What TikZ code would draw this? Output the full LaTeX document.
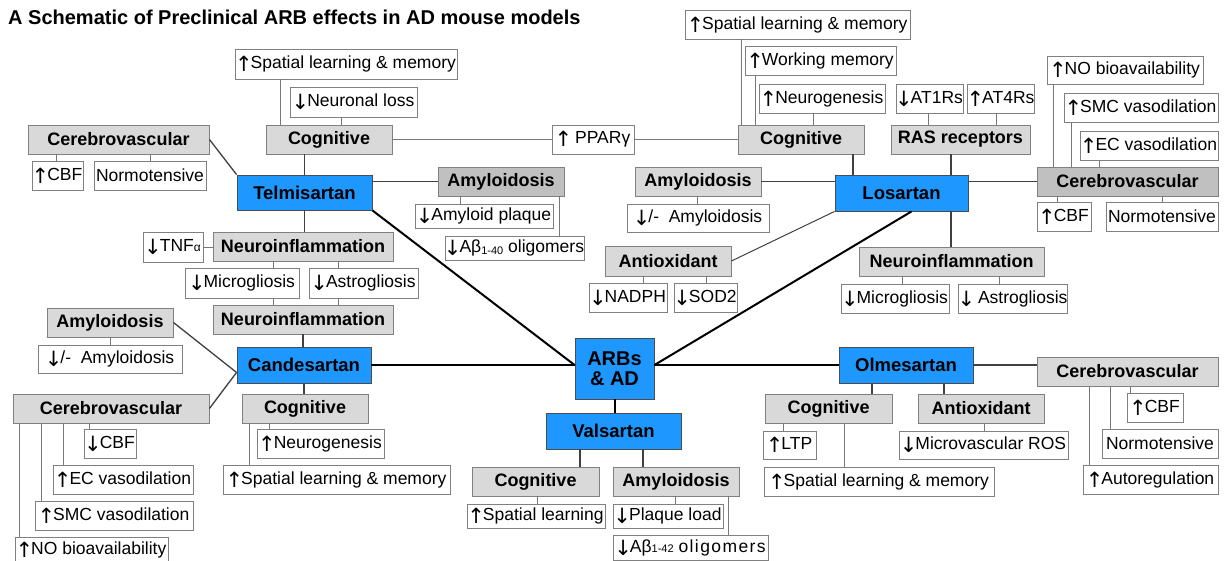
\documentclass[tikz,border=0pt]{standalone}
\usepackage{fontspec}
\setmainfont{Liberation Sans}
\newfontfamily\arrowfont{DejaVu Sans}
\usetikzlibrary{calc}
\definecolor{DrugBlue}{RGB}{30, 152, 255}
\definecolor{CatGray}{RGB}{217, 217, 217}
\definecolor{CatDark}{RGB}{192, 192, 192}
\definecolor{EdgeGray}{RGB}{128, 128, 128}
\definecolor{LinkGray}{RGB}{120, 120, 120}
\newcommand{\UpArr}{\kern-1pt\raisebox{-3pt}{\arrowfont\fontsize{21}{21}\selectfont ↑}\kern-2pt}
\newcommand{\DnArr}{\kern-1pt\raisebox{-3pt}{\arrowfont\fontsize{21}{21}\selectfont ↓}\kern-2pt}

\begin{document}
\begin{tikzpicture}[x=1pt, y=-1pt,
    leaf/.style={draw=EdgeGray, fill=white, line width=0.9pt, inner sep=0pt,
                 font=\fontsize{17.5}{18}\selectfont},
    cat/.style={draw=EdgeGray, fill=CatGray, line width=0.9pt, inner sep=0pt,
                font=\fontsize{18}{19}\selectfont\bfseries},
    catdark/.style={cat, fill=CatDark},
    drug/.style={draw=black!70, fill=DrugBlue, line width=0.9pt, inner sep=0pt,
                 font=\fontsize{18.5}{19}\selectfont\bfseries},
    trunk/.style={line width=2pt, black},
    branch/.style={line width=1.3pt, black!75},
    link/.style={line width=0.9pt, LinkGray}]
    \useasboundingbox (0,0) rectangle (1225,561);

    % Title
    \node[anchor=base west, inner sep=0pt, font=\fontsize{20}{22}\selectfont\bfseries]
        (title) at (8,25) {A Schematic of Preclinical ARB effects in AD mouse models};

    % Center node
    \node[drug, minimum width=79, minimum height=61, align=center,
          font=\fontsize{20}{20}\selectfont\bfseries] (arbs) at (614.5,368.5) {ARBs\\\& AD};

    % Telmisartan with its effects
    \node[drug, minimum width=135, minimum height=35] (telm) at (304.5,192.5) {Telmisartan};
    \node[cat, minimum width=126, minimum height=29] (tcog) at (329,139.5) {Cognitive};
    \node[leaf, minimum width=222, minimum height=30] (tspat) at (346,64) {\UpArr Spatial learning \& memory};
    \node[leaf, minimum width=127, minimum height=30] (tneur) at (353.5,102) {\DnArr Neuronal loss};
    \node[cat, minimum width=181, minimum height=29] (tcere) at (118.5,139.5) {Cerebrovascular};
    \node[leaf, minimum width=51, minimum height=29] (tcbf) at (57.5,175.5) {\UpArr CBF};
    \node[leaf, minimum width=112, minimum height=29] (tnorm) at (150,175.5) {Normotensive};
    \node[catdark, minimum width=126, minimum height=29] (tamy) at (501,181.5) {Amyloidosis};
    \node[leaf, minimum width=138, minimum height=24] (tplaq) at (484,216) {\DnArr Amyloid plaque};
    \node[leaf, minimum width=137, minimum height=24] (tolig) at (514.5,248)
        {\DnArr Aβ\raisebox{-2pt}{\fontsize{11}{11}\selectfont 1-40} oligomers};
    \node[cat, minimum width=180, minimum height=29] (tinfl) at (303,246.5) {Neuroinflammation};
    \node[leaf, minimum width=60, minimum height=30] (ttnf) at (173,247)
        {\DnArr TNF{\fontsize{12}{12}\selectfont α}};
    \node[leaf, minimum width=114, minimum height=30] (tmicro) at (242,283) {\DnArr Microgliosis};
    \node[leaf, minimum width=109, minimum height=30] (tastro) at (363.5,283) {\DnArr Astrogliosis};
    \node[leaf, minimum width=82, minimum height=29] (ppar) at (593,139.5) {\UpArr\ PPARγ};

    % Candesartan with its effects
    \node[drug, minimum width=134, minimum height=36] (cand) at (304,365) {Candesartan};
    \node[cat, minimum width=180, minimum height=29] (cinfl) at (303,319.5) {Neuroinflammation};
    \node[cat, minimum width=126, minimum height=29] (camy) at (110,322.5) {Amyloidosis};
    \node[leaf, minimum width=144, minimum height=28] (camyl) at (110,359) {\DnArr/-\ \ Amyloidosis};
    \node[cat, minimum width=196, minimum height=29] (ccere) at (111,408.5) {Cerebrovascular};
    \node[leaf, minimum width=52, minimum height=29] (ccbf) at (110,443.5) {\DnArr CBF};
    \node[leaf, minimum width=140, minimum height=29] (cec) at (123,479.5) {\UpArr EC vasodilation};
    \node[leaf, minimum width=158, minimum height=29] (csmc) at (114,515.5) {\UpArr SMC vasodilation};
    \node[leaf, minimum width=153, minimum height=25] (cno) at (91.5,549.5) {\UpArr NO bioavailability};
    \node[cat, minimum width=126, minimum height=29] (ccog) at (305,408.5) {Cognitive};
    \node[leaf, minimum width=127, minimum height=29] (cneuro) at (320.5,443.5) {\UpArr Neurogenesis};
    \node[leaf, minimum width=227, minimum height=29] (cspat) at (336.5,479.5) {\UpArr Spatial learning \& memory};

    % Valsartan with its effects
    \node[drug, minimum width=135, minimum height=36] (vals) at (613.5,431) {Valsartan};
    \node[cat, minimum width=127, minimum height=29] (vcog) at (535.5,481.5) {Cognitive};
    \node[cat, minimum width=126, minimum height=29] (vamy) at (676,481.5) {Amyloidosis};
    \node[leaf, minimum width=138, minimum height=24] (vspat) at (536,516) {\UpArr Spatial learning};
    \node[leaf, minimum width=110, minimum height=24] (vplaq) at (668,516) {\DnArr Plaque load};
    \node[leaf, minimum width=155, minimum height=25] (volig) at (690.5,547.5)
        {\DnArr Aβ{\fontsize{11}{11}\selectfont 1-42} {\addfontfeature{LetterSpace=8}oligomers}};

    % Losartan with its effects
    \node[drug, minimum width=133, minimum height=36] (losa) at (901.5,193) {Losartan};
    \node[cat, minimum width=126, minimum height=29] (lcog) at (801,139.5) {Cognitive};
    \node[leaf, minimum width=225, minimum height=29] (lspat) at (797.5,24.5) {\UpArr Spatial learning \& memory};
    \node[leaf, minimum width=151, minimum height=29] (lwork) at (820.5,60.5) {\UpArr Working memory};
    \node[leaf, minimum width=126, minimum height=29] (lneuro) at (822,98.5) {\UpArr Neurogenesis};
    \node[cat, minimum width=139, minimum height=29] (lras) at (960.5,139.5) {RAS receptors};
    \node[leaf, minimum width=67, minimum height=29] (lat1) at (929.5,98.5) {\DnArr AT1Rs};
    \node[leaf, minimum width=66, minimum height=29] (lat4) at (1001,98.5) {\UpArr AT4Rs};
    \node[catdark, minimum width=181, minimum height=29] (lcere) at (1127.5,181.5) {Cerebrovascular};
    \node[leaf, minimum width=156, minimum height=28] (lno) at (1125,70) {\UpArr NO bioavailability};
    \node[leaf, minimum width=154, minimum height=29] (lsmc) at (1141,107.5) {\UpArr SMC vasodilation};
    \node[leaf, minimum width=138, minimum height=29] (lec) at (1149,145.5) {\UpArr EC vasodilation};
    \node[leaf, minimum width=54, minimum height=29] (lcbf) at (1064,216.5) {\UpArr CBF};
    \node[leaf, minimum width=112, minimum height=29] (lnorm) at (1162,216.5) {Normotensive};
    \node[cat, minimum width=126, minimum height=29] (lamy) at (698,181.5) {Amyloidosis};
    \node[leaf, minimum width=142, minimum height=28] (lamyl) at (698,218) {\DnArr/-\ \ Amyloidosis};
    \node[cat, minimum width=126, minimum height=30] (lanti) at (668,261) {Antioxidant};
    \node[leaf, minimum width=78, minimum height=29] (lnadph) at (628,297.5) {\DnArr NADPH};
    \node[leaf, minimum width=63, minimum height=29] (lsod) at (705.5,297.5) {\DnArr SOD2};
    \node[cat, minimum width=185, minimum height=29] (linfl) at (951.5,261.5) {Neuroinflammation};
    \node[leaf, minimum width=108, minimum height=29] (lmicro) at (895,298.5) {\DnArr Microgliosis};
    \node[leaf, minimum width=108, minimum height=29] (lastro) at (1013,298.5) {\DnArr\ Astrogliosis};

    % Olmesartan with its effects
    \node[drug, minimum width=134, minimum height=36] (olme) at (906,365) {Olmesartan};
    \node[cat, minimum width=181, minimum height=29] (ocere) at (1127.5,371.5) {Cerebrovascular};
    \node[leaf, minimum width=56, minimum height=29] (ocbf) at (1155,407.5) {\UpArr CBF};
    \node[leaf, minimum width=116, minimum height=29] (onorm) at (1160,443.5) {Normotensive};
    \node[leaf, minimum width=135, minimum height=29] (oauto) at (1150.5,479.5) {\UpArr Autoregulation};
    \node[cat, minimum width=127, minimum height=29] (ocog) at (828.5,408.5) {Cognitive};
    \node[leaf, minimum width=53, minimum height=28] (oltp) at (789.5,445) {\UpArr LTP};
    \node[leaf, minimum width=230, minimum height=29] (ospat) at (879,481.5) {\UpArr Spatial learning \& memory};
    \node[cat, minimum width=126, minimum height=29] (oanti) at (981,408.5) {Antioxidant};
    \node[leaf, minimum width=169, minimum height=28] (oros) at (983.5,445) {\DnArr Microvascular ROS};

    % Drugs to the center
    \draw[trunk] (telm.south east) -- (cand.east -| arbs.west);
    \draw[trunk] (cand.east) -- (cand.east -| arbs.west);
    \draw[trunk] (olme.west -| arbs.east) -- ([xshift=10]losa.south);
    \draw[trunk] (olme.west) -- (olme.west -| arbs.east);
    \draw[trunk] (arbs.south) -- (arbs.south |- vals.north);

    % Drugs to their categories
    \draw[branch] (telm.north) -- (telm.north |- tcog.south);
    \draw[branch] (tcere.east) -- (telm.north west);
    \draw[branch] (tamy.west -| telm.east) -- (tamy.west);
    \draw[branch] (telm.south) -- (telm.south |- tinfl.north);
    \draw[branch] (cinfl.south) -- (cinfl.south |- cand.north);
    \draw[branch] (camy.east) -- ([yshift=11]cand.south west);
    \draw[branch] (ccere.east) -- ([yshift=11]cand.south west);
    \draw[branch] (cand.south) -- (cand.south |- ccog.north);
    \draw[branch] (580,0 |- vals.south) -- (580,0 |- vcog.north);
    \draw[branch] (643,0 |- vals.south) -- (643,0 |- vamy.north);
    \draw[branch] (853,0 |- lcog.south) -- (853,0 |- losa.north);
    \draw[branch] (951,0 |- lras.south) -- (951,0 |- losa.north);
    \draw[branch] (lcere.west -| losa.east) -- (lcere.west);
    \draw[branch] (lamy.east) -- (lamy.east -| losa.west);
    \draw[branch] (951,0 |- losa.south) -- (951,0 |- linfl.north);
    \draw[line width=1pt, black!75] (lanti.east) -- (losa.south west);
    \draw[branch] (olme.east) -- (olme.east -| ocere.west);
    \draw[branch] (872,0 |- olme.south) -- (872,0 |- ocog.north);
    \draw[branch] (944,0 |- olme.south) -- (944,0 |- oanti.north);

    % Categories to their effects
    \draw[link] (tcog.east) -- (ppar.west);
    \draw[link] (ppar.east) -- (lcog.west);
    \foreach \xx/\aa/\bb in {280/tspat/tcog, 341/tneur/tcog, 56/tcere/tcbf, 150/tcere/tnorm,
        460/tamy/tplaq, 559/tamy/tolig, 273/tinfl/tmicro, 273/tmicro/cinfl,
        338/tinfl/tastro, 338/tastro/cinfl, 110/camy/camyl, 89/ccere/ccbf,
        63/ccere/cec, 41/ccere/csmc, 19/ccere/cno, 269/ccog/cneuro, 249/ccog/cspat,
        537/vcog/vspat, 675/vamy/vplaq, 728/vamy/volig,
        741/lspat/lcog, 755/lwork/lcog, 813/lneuro/lcog, 928/lat1/lras, 996/lat4/lras,
        1053/lno/lcere, 1071/lsmc/lcere, 1099/lec/lcere, 1057/lcere/lcbf, 1162/lcere/lnorm,
        697/lamy/lamyl, 643/lanti/lnadph, 706/lanti/lsod, 902/linfl/lmicro, 999/linfl/lastro,
        783/ocog/oltp, 844/ocog/ospat, 984/oanti/oros,
        1130/ocere/ocbf, 1110/ocere/onorm, 1089/ocere/oauto}
        \draw[link] (\xx,0 |- \aa.south) -- (\xx,0 |- \bb.north);
    \draw[link] (ttnf.east) -- (ttnf.east -| tinfl.west);
\end{tikzpicture}
\end{document}
